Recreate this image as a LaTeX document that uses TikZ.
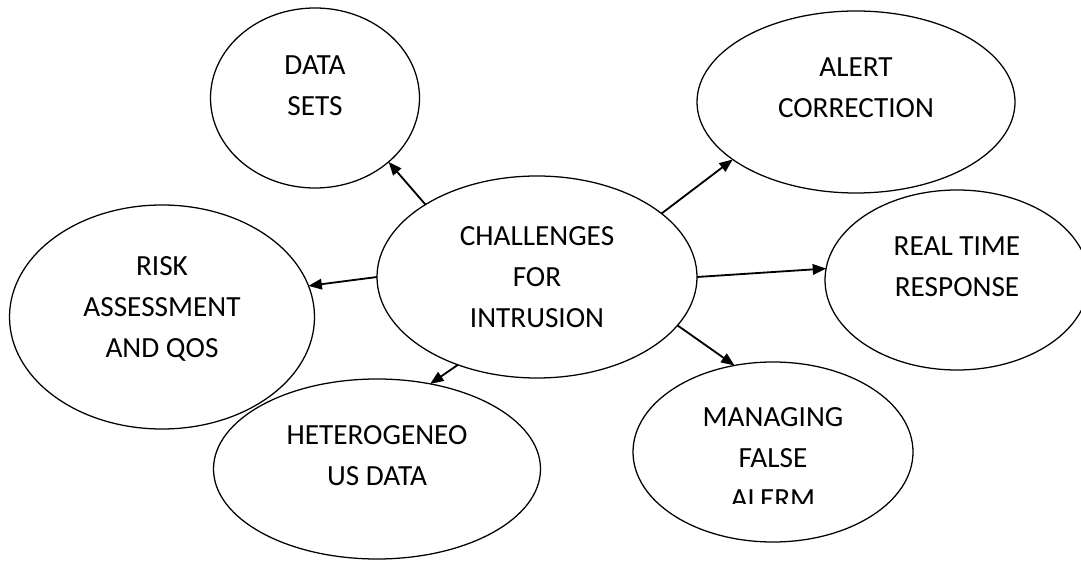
\documentclass[tikz,border=0pt]{standalone}
\usepackage{fontspec}
\setmainfont{Carlito}
\usetikzlibrary{shapes.geometric,arrows.meta,positioning}

\begin{document}
\begin{tikzpicture}[
    bubble/.style={ellipse, draw, line width=0.9pt, inner sep=0pt, outer sep=0pt},
    bubbletext/.style={align=center, font=\fontsize{20.8}{29.2}\selectfont, inner sep=0pt},
    arrow/.style={-{Triangle[length=9.5pt, width=7.5pt]}, line width=1.3pt}
]
    \useasboundingbox (0,0) rectangle (27.025,14);

    % Bubbles
    \node[bubble, minimum width=8cm, minimum height=5.05cm] (challenges) at (13.425, 7.075) {};
    \node[bubble, minimum width=5.225cm, minimum height=4.5cm] (datasets) at (7.875, 11.55) {};
    \node[bubble, minimum width=7.95cm, minimum height=4.55cm] (alert) at (21.4, 11.45) {};
    \node[bubble, minimum width=6.6cm, minimum height=4.5cm] (realtime) at (23.925, 7.0) {};
    \node[bubble, minimum width=7cm, minimum height=4.5cm] (falsealarm) at (19.325, 2.7) {};
    \node[bubble, minimum width=8.175cm, minimum height=4.5cm] (hetero) at (9.425, 2.275) {};
    \node[bubble, minimum width=7.625cm, minimum height=5.6cm] (risk) at (4.05, 6.075) {};

    % Texts
    \node[bubbletext] (challenges-text) at (challenges.center) {CHALLENGES\\FOR\\INTRUSION};
    \node[bubbletext] (datasets-text) at ([yshift=0.3cm]datasets.center) {DATA\\SETS};
    \node[bubbletext] (alert-text) at ([yshift=0.36cm]alert.center) {ALERT\\CORRECTION};
    \node[bubbletext] (realtime-text) at ([yshift=0.33cm]realtime.center) {REAL TIME\\RESPONSE};
    \node[bubbletext] (hetero-text) at ([yshift=0.33cm]hetero.center) {HETEROGENEO\\US DATA};
    \node[bubbletext] (risk-text) at ([yshift=0.2cm]risk.center) {RISK\\ASSESSMENT\\AND QOS};
    \begin{scope}
        \clip (15,1.425) rectangle (24,6);
        \node[bubbletext] (falsealarm-text) at ([yshift=-0.16cm]falsealarm.center) {MANAGING\\FALSE\\ALERM};
    \end{scope}

    % Arrows
    \draw[arrow] (challenges.147) -- (datasets.-41);
    \draw[arrow] (challenges.27) -- (alert.-155);
    \draw[arrow] (challenges.180) -- (risk.12.6);
    \draw[arrow] (challenges.0) -- (realtime.175);
    \draw[arrow] (challenges.-132) -- (hetero.58);
    \draw[arrow] (challenges.-19.4) -- (falsealarm.114);
\end{tikzpicture}
\end{document}
